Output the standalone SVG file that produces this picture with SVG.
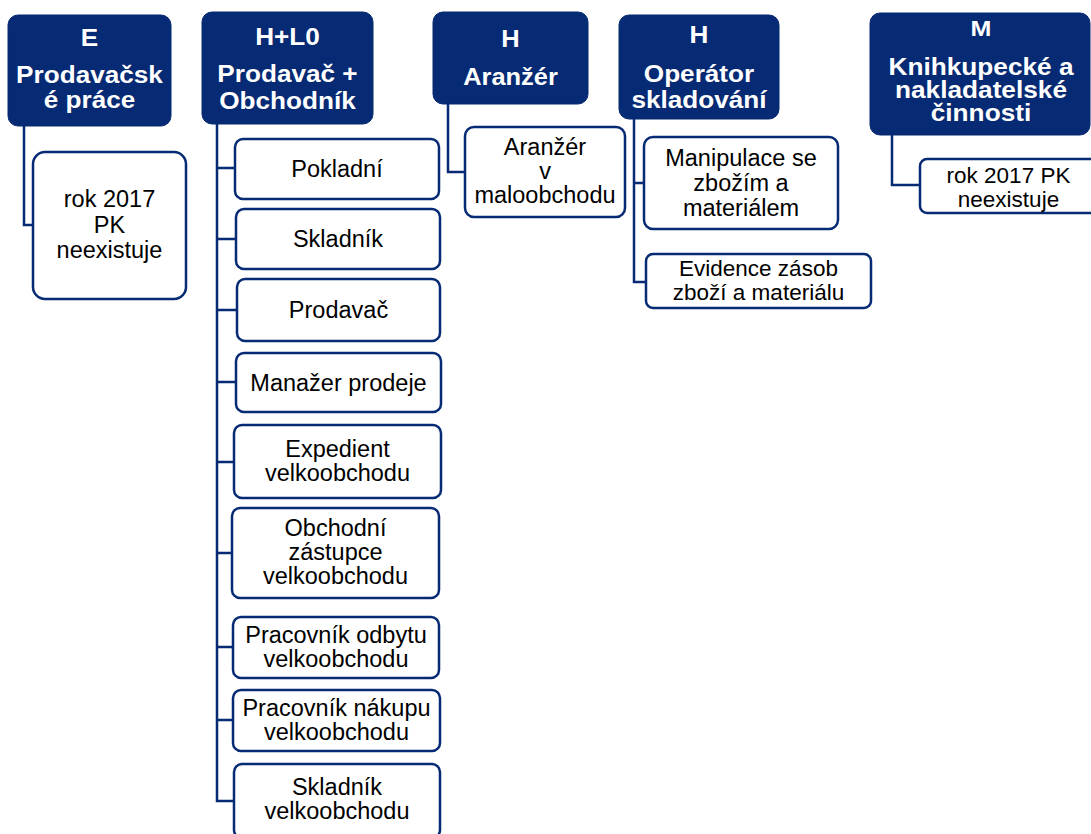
<svg xmlns="http://www.w3.org/2000/svg" width="1091" height="834" viewBox="0 0 1091 834">
<style>
.hd{fill:#062a73;stroke:#062a73;stroke-width:1}
.bx{fill:#fff;stroke:#062a73;stroke-width:2.5}
.cn{fill:none;stroke:#062a73;stroke-width:2.5}
.ht{font-family:"Liberation Sans",Arial,sans-serif;font-weight:bold;font-size:24px;fill:#fff;text-anchor:middle}
.ct{font-family:"Liberation Sans",Arial,sans-serif;font-size:23.5px;fill:#000;text-anchor:middle}
.sm{font-size:22.5px}
</style>
<rect width="1091" height="834" fill="#fff"/>
<g id="connectors">
<path class="cn" d="M24,126 V225 H33"/>
<path class="cn" d="M217,124 V801 H234 M217,168 H235 M217,239 H236 M217,310 H237 M217,382 H236 M217,462 H234 M217,553 H232 M217,647 H233 M217,720 H233"/>
<path class="cn" d="M448,104 V172 H465"/>
<path class="cn" d="M634,119 V282 H646 M634,183 H644"/>
<path class="cn" d="M892,135 V185 H920"/>
</g>
<g id="hE">
<rect class="hd" x="8" y="15" width="163" height="111" rx="10"/>
<g transform="translate(89.5 0) scale(1.09 1)"><text class="ht" x="0" y="46">E</text><text class="ht" x="0" y="83">Prodavačsk</text><text class="ht" x="0" y="108">é práce</text></g>
</g>
<g id="cE">
<rect class="bx" x="33" y="152" width="153" height="147" rx="12"/>
<text class="ct" x="109.5" y="207">rok 2017</text><text class="ct" x="109.5" y="233">PK</text><text class="ct" x="109.5" y="258">neexistuje</text>
</g>
<g id="hHL0">
<rect class="hd" x="202" y="12" width="171" height="112" rx="10"/>
<g transform="translate(287.5 0) scale(1.09 1)"><text class="ht" x="0" y="45">H+L0</text><text class="ht" x="0" y="82">Prodavač +</text><text class="ht" x="0" y="109">Obchodník</text></g>
</g>
<g id="c1"><rect class="bx" x="235" y="139" width="204" height="60" rx="8"/><text class="ct" x="337" y="177">Pokladní</text></g>
<g id="c2"><rect class="bx" x="236" y="209" width="204" height="60" rx="8"/><text class="ct" x="338" y="247">Skladník</text></g>
<g id="c3"><rect class="bx" x="237" y="279" width="203" height="62" rx="8"/><text class="ct" x="338.5" y="318">Prodavač</text></g>
<g id="c4"><rect class="bx" x="236" y="353" width="205" height="59" rx="8"/><text class="ct" x="338.5" y="390.5">Manažer prodeje</text></g>
<g id="c5"><rect class="bx" x="234" y="425" width="207" height="73" rx="8"/><text class="ct" x="337.5" y="457">Expedient</text><text class="ct" x="337.5" y="481">velkoobchodu</text></g>
<g id="c6"><rect class="bx" x="232" y="508" width="207" height="90" rx="8"/><text class="ct" x="335.5" y="536">Obchodní</text><text class="ct" x="335.5" y="560">zástupce</text><text class="ct" x="335.5" y="584">velkoobchodu</text></g>
<g id="c7"><rect class="bx" x="233" y="617" width="206" height="61" rx="8"/><text class="ct" x="336" y="642.5">Pracovník odbytu</text><text class="ct" x="336" y="666.5">velkoobchodu</text></g>
<g id="c8"><rect class="bx" x="233" y="690" width="207" height="61" rx="8"/><text class="ct" x="336.5" y="715.5">Pracovník nákupu</text><text class="ct" x="336.5" y="739.5">velkoobchodu</text></g>
<g id="c9"><rect class="bx" x="234" y="764" width="206" height="74" rx="8"/><text class="ct" x="337" y="795">Skladník</text><text class="ct" x="337" y="819">velkoobchodu</text></g>
<g id="hAr">
<rect class="hd" x="433" y="12" width="155" height="92" rx="10"/>
<g transform="translate(510.5 0) scale(1.06 1)"><text class="ht" x="0" y="47">H</text><text class="ht" x="0" y="85">Aranžér</text></g>
</g>
<g id="cAr"><rect class="bx" x="465" y="127" width="160" height="90" rx="9"/><text class="ct" x="545" y="155">Aranžér</text><text class="ct" x="545" y="179">v</text><text class="ct" x="545" y="203">maloobchodu</text></g>
<g id="hOp">
<rect class="hd" x="619" y="15" width="160" height="104" rx="10"/>
<g transform="translate(699 0) scale(1.09 1)"><text class="ht" x="0" y="43">H</text><text class="ht" x="0" y="82">Operátor</text><text class="ht" x="0" y="108">skladování</text></g>
</g>
<g id="cOp1"><rect class="bx" x="644" y="137" width="194" height="92" rx="9"/><text class="ct" x="741" y="166">Manipulace se</text><text class="ct" x="741" y="191">zbožím a</text><text class="ct" x="741" y="216">materiálem</text></g>
<g id="cOp2"><rect class="bx" x="646" y="254" width="225" height="54" rx="7"/><text class="ct sm" x="758.5" y="276">Evidence zásob</text><text class="ct sm" x="758.5" y="300">zboží a materiálu</text></g>
<g id="hM">
<rect class="hd" x="870" y="13" width="220" height="122" rx="10"/>
<g transform="translate(981 0) scale(1.14 1)"><text class="ht" x="0" y="36" style="font-size:22px">M</text><text class="ht" x="0" y="75" style="font-size:23px">Knihkupecké a</text><text class="ht" x="0" y="98" style="font-size:23px">nakladatelské</text><text class="ht" x="0" y="121" style="font-size:23px">činnosti</text></g>
</g>
<g id="cM"><rect class="bx" x="920" y="159" width="177" height="54" rx="7"/><text class="ct sm" x="1008.5" y="183">rok 2017 PK</text><text class="ct sm" x="1008.5" y="207">neexistuje</text></g>
</svg>
